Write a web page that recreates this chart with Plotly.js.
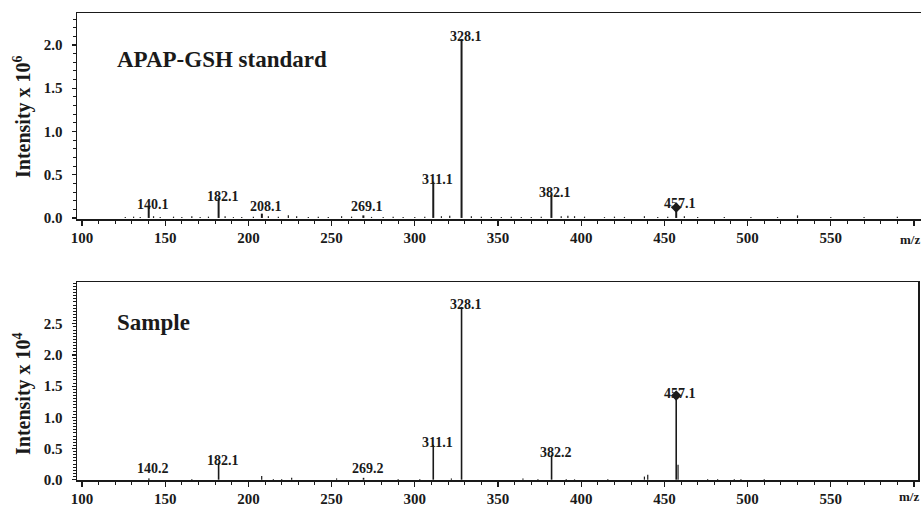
<!DOCTYPE html>
<html>
<head>
<meta charset="utf-8">
<script src="https://cdn.plot.ly/plotly-3.0.1.min.js"></script>
<style>html,body{margin:0;padding:0;background:#fff;}#chart{width:921px;height:505px;}</style>
</head>
<body>
<div id="chart"></div>
<script>
// ---- Data ----
// APAP-GSH standard, intensity x 10^6
const stdPeakMz    = [140.1, 182.1, 208.1, 269.1, 311.1, 328.1, 382.1, 457.1];
const stdPeakInt   = [0.13, 0.23, 0.05, 0.03, 0.42, 2.07, 0.27, 0.14];
const stdPeakLabel = ["140.1", "182.1", "208.1", "269.1", "311.1", "328.1", "382.1", "457.1"];
const stdNoiseMz   = [126, 131, 135, 143, 147, 155, 160, 166, 171, 176, 186, 191, 196, 203, 212, 218, 224, 229, 236, 242, 248, 256, 262, 274, 281, 287, 293, 300, 306, 316, 321, 334, 340, 346, 352, 358, 364, 370, 376, 388, 392, 396, 402, 414, 420, 426, 438, 446, 452, 462, 470, 486, 502, 518, 530, 550, 570, 590];
const stdNoiseInt  = [0.01, 0.015, 0.01, 0.02, 0.012, 0.015, 0.01, 0.02, 0.012, 0.015, 0.02, 0.01, 0.012, 0.015, 0.02, 0.015, 0.03, 0.02, 0.01, 0.015, 0.012, 0.02, 0.015, 0.012, 0.01, 0.015, 0.01, 0.012, 0.015, 0.02, 0.025, 0.02, 0.015, 0.012, 0.01, 0.015, 0.012, 0.01, 0.015, 0.02, 0.025, 0.02, 0.015, 0.01, 0.015, 0.012, 0.02, 0.01, 0.015, 0.02, 0.012, 0.01, 0.012, 0.01, 0.03, 0.012, 0.01, 0.015];
const stdMarkerMz  = [457.1];
const stdMarkerInt = [0.12];

// Sample, intensity x 10^4
const smpPeakMz    = [140.2, 182.1, 269.2, 311.1, 328.1, 382.2, 457.1];
const smpPeakInt   = [0.02, 0.27, 0.03, 0.56, 2.77, 0.40, 1.35];
const smpPeakLabel = ["140.2", "182.1", "269.2", "311.1", "328.1", "382.2", "457.1"];
const smpNoiseMz   = [166, 208, 215, 220, 226, 253, 290, 303, 322, 365, 374, 391, 396, 416, 438, 440, 458.2, 476, 482, 492, 496, 510];
const smpNoiseInt  = [0.01, 0.06, 0.01, 0.01, 0.03, 0.02, 0.01, 0.01, 0.02, 0.02, 0.01, 0.01, 0.01, 0.01, 0.05, 0.08, 0.24, 0.01, 0.01, 0.01, 0.01, 0.01];
const smpMarkerMz  = [457.1];
const smpMarkerInt = [1.35];

const xTickVals = [100, 150, 200, 250, 300, 350, 400, 450, 500, 550, 600];
const xTickText = ["100", "150", "200", "250", "300", "350", "400", "450", "500", "550", " "];
const stdYTicks = [0, 0.5, 1.0, 1.5, 2.0];
const smpYTicks = [0, 0.5, 1.0, 1.5, 2.0, 2.5];

// ---- Helpers ----
function sticks(mz, inten) {
  const x = [], y = [];
  for (let i = 0; i < mz.length; i++) { x.push(mz[i], mz[i], null); y.push(0, inten[i], null); }
  return {x, y};
}
const FONT = "Liberation Serif, Times New Roman, serif";
const INK = "#1a1a1a";

const sN = sticks(stdNoiseMz, stdNoiseInt);
const sP = sticks(stdPeakMz, stdPeakInt);
const mN = sticks(smpNoiseMz, smpNoiseInt);
const mP = sticks(smpPeakMz, smpPeakInt);

const traces = [
  {x: sN.x, y: sN.y, xaxis: "x", yaxis: "y", mode: "lines", line: {color: INK, width: 1.2}, hoverinfo: "skip"},
  {x: sP.x, y: sP.y, xaxis: "x", yaxis: "y", mode: "lines", line: {color: INK, width: 2}, hoverinfo: "skip"},
  {x: stdMarkerMz, y: stdMarkerInt, xaxis: "x", yaxis: "y", mode: "markers", marker: {symbol: "diamond", size: 8, color: INK}},
  {x: mN.x, y: mN.y, xaxis: "x2", yaxis: "y2", mode: "lines", line: {color: INK, width: 1.2}, hoverinfo: "skip"},
  {x: mP.x, y: mP.y, xaxis: "x2", yaxis: "y2", mode: "lines", line: {color: INK, width: 1.6}, hoverinfo: "skip"},
  {x: smpMarkerMz, y: smpMarkerInt, xaxis: "x2", yaxis: "y2", mode: "markers", marker: {symbol: "diamond", size: 8, color: INK}}
];

// ---- Geometry ----
const W = 921, H = 505, ML = 77, MR = 0, MT = 13, MB = 25;
const plotH = H - MT - MB;
const pxPerMz = 1.664;
const xMin = 97;
const topW = W - ML - MR;
const botW = topW - 3;
const topRange = [-0.012, 2.37];
const botRange = [-0.005, 3.17];
const topDom = [(H - MB - 219) / plotH, 1];
const botDom = [0, (H - MB - 282) / plotH];
const topPxPerUnit = (219 - 13) / (topRange[1] - topRange[0]);
const botPxPerUnit = (480 - 282) / (botRange[1] - botRange[0]);

const tickFont = {family: FONT, size: 15, color: INK, weight: "bold"};

function xAxis(anchor, width) {
  return {
    anchor: anchor, domain: [0, width / topW], range: [xMin, xMin + width / pxPerMz],
    showline: true, linecolor: INK, linewidth: 1.5, mirror: true,
    ticks: "outside", ticklen: 5, tickwidth: 1.2, tickcolor: INK,
    tickmode: "array", tickvals: xTickVals, ticktext: xTickText,
    tickfont: tickFont, ticklabelstandoff: -1,
    minor: {tickmode: "linear", tick0: 0, dtick: 10, ticks: "outside", ticklen: 3, tickcolor: INK, tickwidth: 1, showgrid: false},
    showgrid: false, zeroline: false, fixedrange: true
  };
}
function yAxis(anchor, dom, range, vals, minorDt, mirror) {
  return {
    anchor: anchor, domain: dom, range: range,
    showline: true, linecolor: INK, linewidth: 1.5, mirror: mirror,
    ticks: "outside", ticklen: 4, tickwidth: 1.2, tickcolor: INK,
    tickmode: "array", tickvals: vals, ticktext: vals.map(v => v.toFixed(1)),
    tickfont: tickFont, ticklabelstandoff: 6,
    minor: {tickmode: "linear", tick0: 0, dtick: minorDt, ticks: "outside", ticklen: 3, tickcolor: INK, tickwidth: 1, showgrid: false},
    showgrid: false, zeroline: false, fixedrange: true
  };
}

const annotations = [];
function peakLabels(mz, inten, labels, xref, yref, pxPerUnit) {
  for (let i = 0; i < mz.length; i++) {
    const yv = Math.max(inten[i], 9 / pxPerUnit);
    annotations.push({
      x: mz[i], y: yv, xref: xref, yref: yref, text: labels[i], showarrow: false,
      xanchor: "center", yanchor: "middle", xshift: 4, yshift: 2,
      font: {family: FONT, size: 14, color: INK, weight: "bold"}
    });
  }
}
peakLabels(stdPeakMz, stdPeakInt, stdPeakLabel, "x", "y", topPxPerUnit);
peakLabels(smpPeakMz, smpPeakInt, smpPeakLabel, "x2", "y2", botPxPerUnit);

const titleFont = {family: FONT, size: 20, color: INK, weight: "bold"};
annotations.push(
  {xref: "paper", yref: "paper", x: (22 - ML) / topW, y: (H - MB - 116) / plotH, text: "Intensity x 10<sup>6</sup>",
   textangle: -90, showarrow: false, xanchor: "center", yanchor: "middle", font: titleFont},
  {xref: "paper", yref: "paper", x: (22 - ML) / topW, y: (H - MB - 393) / plotH, text: "Intensity x 10<sup>4</sup>",
   textangle: -90, showarrow: false, xanchor: "center", yanchor: "middle", font: titleFont},
  {xref: "x", yref: "y", x: xMin + (115 - ML) / pxPerMz, y: (218 - 60) / topPxPerUnit, text: "APAP-GSH standard",
   showarrow: false, xanchor: "left", yanchor: "middle", font: {family: FONT, size: 23, color: INK, weight: "bold"}},
  {xref: "x2", yref: "y2", x: xMin + (115 - ML) / pxPerMz, y: (480 - 323) / botPxPerUnit, text: "Sample",
   showarrow: false, xanchor: "left", yanchor: "middle", font: {family: FONT, size: 23, color: INK, weight: "bold"}},
  {xref: "paper", yref: "paper", x: (898 - ML) / topW, y: (H - MB - 239) / plotH, text: "m/z",
   showarrow: false, xanchor: "left", yanchor: "middle", font: {family: FONT, size: 13, color: INK, weight: "bold"}},
  {xref: "paper", yref: "paper", x: (897 - ML) / topW, y: (H - MB - 496) / plotH, text: "m/z",
   showarrow: false, xanchor: "left", yanchor: "middle", font: {family: FONT, size: 13, color: INK, weight: "bold"}}
);

const layout = {
  width: W, height: H,
  margin: {l: ML, r: MR, t: MT, b: MB, pad: 0},
  paper_bgcolor: "#ffffff", plot_bgcolor: "#ffffff",
  showlegend: false,
  font: {family: FONT, color: INK},
  xaxis: xAxis("y", topW),
  yaxis: yAxis("x", topDom, topRange, stdYTicks, 0.1, false),
  xaxis2: xAxis("y2", botW),
  yaxis2: yAxis("x2", botDom, botRange, smpYTicks, 0.05, true),
  annotations: annotations
};

Plotly.newPlot("chart", traces, layout, {staticPlot: true, displayModeBar: false});
</script>
</body>
</html>
